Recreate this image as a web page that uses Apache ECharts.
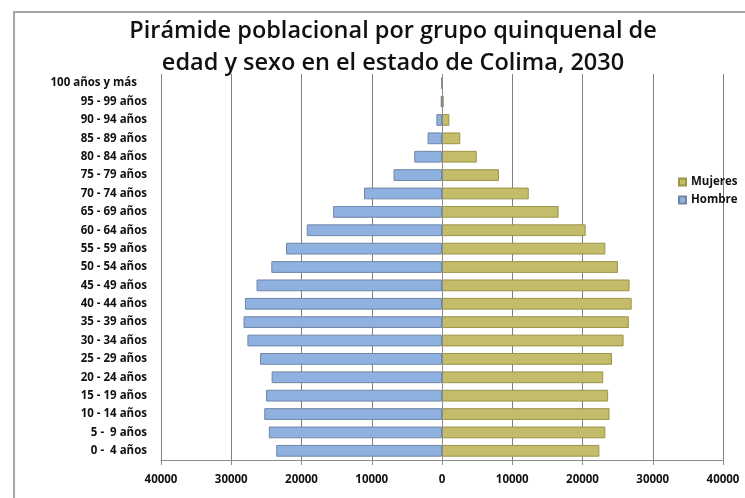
<!DOCTYPE html>
<html>
<head>
<meta charset="utf-8">
<script src="https://cdn.jsdelivr.net/npm/echarts@6/dist/echarts.min.js"></script>
<style>
  html, body { margin: 0; padding: 0; background: #ffffff; }
  #chart { width: 745px; height: 498px; }
</style>
</head>
<body>
<div id="chart"></div>
<script>
// Age groups, youngest first (bottom of the pyramid)
const ageGroups = [
  '0 -  4 años', '5 -  9 años', '10 - 14 años', '15 - 19 años', '20 - 24 años',
  '25 - 29 años', '30 - 34 años', '35 - 39 años', '40 - 44 años', '45 - 49 años',
  '50 - 54 años', '55 - 59 años', '60 - 64 años', '65 - 69 años', '70 - 74 años',
  '75 - 79 años', '80 - 84 años', '85 - 89 años', '90 - 94 años', '95 - 99 años',
  '100 años y más'
];

// Population by sex, same order as ageGroups
const hombres = [
  23600, 24650, 25300, 25050, 24250,
  25900, 27700, 28250, 28050, 26400,
  24300, 22200, 19250, 15500, 11100,
  6900, 3950, 2050, 800, 180,
  60
];
const mujeres = [
  22400, 23250, 23850, 23650, 22950,
  24200, 25850, 26600, 27000, 26700,
  25050, 23250, 20450, 16600, 12350,
  8100, 4950, 2600, 1050, 250,
  80
];

// Axis ticks
const xMin = -40000;
const xMax = 40000;
const xStep = 10000;

const chart = echarts.init(document.getElementById('chart'), null, { renderer: 'canvas' });

const labelFont = '"Open Sans", "Liberation Sans", sans-serif';

chart.setOption({
  backgroundColor: '#ffffff',
  animation: false,
  title: {
    text: 'Pirámide poblacional por grupo quinquenal de\nedad y sexo en el estado de Colima, 2030',
    left: 388,
    top: 10,
    textAlign: 'center',
    textStyle: {
      fontFamily: labelFont,
      fontWeight: 600,
      fontSize: 23.5,
      lineHeight: 32,
      color: '#111111'
    }
  },
  graphic: [
    {
      type: 'rect',
      silent: true,
      shape: { x: 14, y: 12, width: 800, height: 560 },
      style: { fill: 'none', stroke: '#a6a6a6', lineWidth: 2 }
    }
  ],
  legend: {
    orient: 'vertical',
    left: 673,
    top: 171,
    icon: 'rect',
    itemWidth: 7,
    itemHeight: 7,
    itemGap: 6,
    data: ['Mujeres', 'Hombre'],
    textStyle: {
      fontFamily: labelFont,
      fontWeight: 'bold',
      fontSize: 11.5,
      color: '#111111'
    }
  },
  grid: {
    left: 161,
    right: 22,
    top: 74,
    bottom: 38,
    containLabel: false
  },
  xAxis: {
    type: 'value',
    min: xMin,
    max: xMax,
    interval: xStep,
    axisLine: { show: true, onZero: false, lineStyle: { color: '#8c8c8c', width: 1 } },
    axisTick: { show: true, length: 5, lineStyle: { color: '#8c8c8c' } },
    splitLine: { show: true, lineStyle: { color: '#7f7f7f', width: 1 } },
    axisLabel: {
      margin: 14,
      fontFamily: labelFont,
      fontWeight: 'bold',
      fontSize: 11.5,
      color: '#111111',
      formatter: v => String(Math.abs(v))
    }
  },
  yAxis: {
    type: 'category',
    data: ageGroups,
    axisLine: { show: false },
    axisTick: { show: false },
    axisLabel: {
      margin: 14,
      fontFamily: labelFont,
      fontWeight: 'bold',
      fontSize: 11.5,
      color: '#111111',
      formatter: (v, i) => (i === ageGroups.length - 1 ? '{top|' + v + '}' : v),
      rich: {
        top: {
          fontFamily: labelFont,
          fontWeight: 'bold',
          fontSize: 11.5,
          color: '#111111',
          padding: [0, 10, 0, 0]
        }
      }
    }
  },
  series: [
    {
      name: 'Hombre',
      type: 'bar',
      barWidth: '64%',
      barGap: '-100%',
      itemStyle: { color: '#8eb1df', borderColor: '#6f86a6', borderWidth: 1 },
      // centre divider at zero
      markLine: {
        silent: true,
        symbol: 'none',
        label: { show: false },
        lineStyle: { color: '#8c8c8c', width: 1, type: 'solid' },
        data: [{ xAxis: 0 }]
      },
      data: hombres.map(v => -v)
    },
    {
      name: 'Mujeres',
      type: 'bar',
      barWidth: '64%',
      barGap: '-100%',
      itemStyle: { color: '#c2bc6b', borderColor: '#9b9548', borderWidth: 1 },
      data: mujeres
    }
  ]
});
</script>
</body>
</html>
